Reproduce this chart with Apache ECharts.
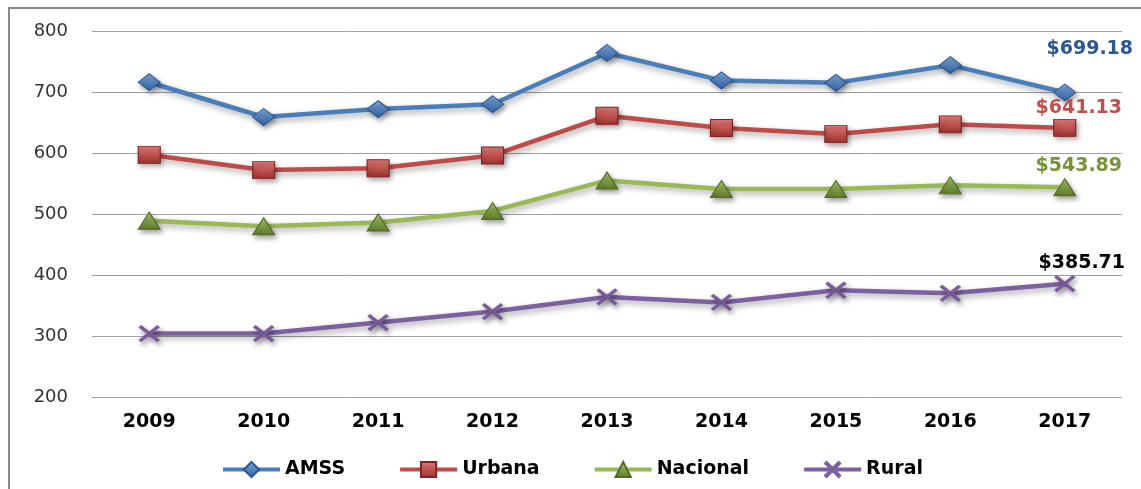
<!DOCTYPE html>
<html>
<head>
<meta charset="utf-8">
<title>Ingreso promedio</title>
<script src="https://cdn.jsdelivr.net/npm/echarts@6/dist/echarts.min.js"></script>
<style>
  html, body { margin: 0; padding: 0; background: #fff; }
  #main { width: 1141px; height: 489px; }
</style>
</head>
<body>
<div id="main"></div>
<script>
// datos
var years = ['2009', '2010', '2011', '2012', '2013', '2014', '2015', '2016', '2017'];
var amss = [716, 659, 672, 680, 764, 719, 715, 744, 699.18];
var urbana = [597, 572, 575, 596, 661, 641, 631, 647, 641.13];
var nacional = [489, 480, 486, 505, 555, 541, 541, 547, 543.89];
var rural = [304, 304, 322, 340, 364, 355, 375, 370, 385.71];
var yTicks = [200, 300, 400, 500, 600, 700, 800];

var FONT = 'DejaVu Sans';
var xPath = 'path://M0,1L1,0L5,4L9,0L10,1L6,5L10,9L9,10L5,6L1,10L0,9L4,5Z';

// solo el ultimo punto lleva etiqueta
function conEtiqueta(vals, color, offset) {
  return vals.map(function (v, i) {
    if (i != vals.length - 1) return v;
    return {
      value: v,
      label: {
        show: true,
        position: 'top',
        distance: 4,
        offset: offset,
        color: color,
        fontFamily: FONT,
        fontWeight: 'bold',
        fontSize: 19,
        formatter: function (p) { return '$' + p.value.toFixed(2); }
      }
    };
  });
}

function grad(c1, c2) {
  return new echarts.graphic.LinearGradient(0, 0, 0, 1, [
    { offset: 0, color: c1 }, { offset: 1, color: c2 }
  ]);
}

function serie(name, vals, lineColor, sym, size, fill, border, labelColor, offset) {
  return {
    name: name,
    type: 'line',
    data: conEtiqueta(vals, labelColor, offset),
    symbol: sym,
    symbolSize: size,
    showAllSymbol: true,
    lineStyle: {
      color: lineColor, width: 4.5,
      shadowColor: 'rgba(0,0,0,0.35)', shadowBlur: 6, shadowOffsetX: 2, shadowOffsetY: 3
    },
    itemStyle: {
      color: fill, borderColor: border, borderWidth: 1,
      shadowColor: 'rgba(0,0,0,0.35)', shadowBlur: 5, shadowOffsetX: 2, shadowOffsetY: 3
    },
    emphasis: { disabled: true },
    z: 3
  };
}

var myChart = echarts.init(document.getElementById('main'));
myChart.setOption({
  animation: false,
  backgroundColor: '#fff',
  graphic: [{
    type: 'rect',
    shape: { x: 9, y: 8, width: 1200, height: 600 },
    style: { fill: 'none', stroke: '#8a8a8a', lineWidth: 2 },
    silent: true
  }],
  grid: { left: 92, right: 19, top: 31, bottom: 92 },
  legend: {
    left: 216,
    top: 455,
    itemWidth: 57,
    itemHeight: 19,
    itemGap: 53,
    lineStyle: { width: 4 },
    textStyle: { fontFamily: FONT, fontWeight: 'bold', fontSize: 19, color: '#000' },
    data: ['AMSS', 'Urbana', 'Nacional', 'Rural']
  },
  xAxis: {
    type: 'category',
    data: years,
    boundaryGap: true,
    axisLine: { show: false },
    axisTick: { show: false },
    axisLabel: { margin: 16, fontFamily: FONT, fontWeight: 'bold', fontSize: 19, color: '#000' }
  },
  yAxis: {
    type: 'value',
    min: yTicks[0],
    max: yTicks[yTicks.length - 1],
    interval: 100,
    axisLine: { show: false },
    axisTick: { show: false },
    axisLabel: { margin: 24, fontFamily: FONT, fontSize: 18, color: '#333' },
    splitLine: { lineStyle: { color: '#a0a0a0', width: 1 } }
  },
  series: [
    serie('AMSS', amss, '#4A7EBB', 'diamond', [22, 17], grad('#7FA9DD', '#2F5F9E'), '#2A5590', '#2B5797', [25, -21]),
    serie('Urbana', urbana, '#BE4B48', 'rect', [22, 17], grad('#E07A77', '#9C2F2C'), '#7E2523', '#C0504D', [14, 3]),
    serie('Nacional', nacional, '#98B954', 'triangle', [22, 17], grad('#A9C96C', '#5E7B2A'), '#4F6A22', '#77933C', [14, 1]),
    serie('Rural', rural, '#7D60A0', xPath, [20, 16], '#7D60A0', '#7D60A0', '#000', [17, 1])
  ]
});
</script>
</body>
</html>
